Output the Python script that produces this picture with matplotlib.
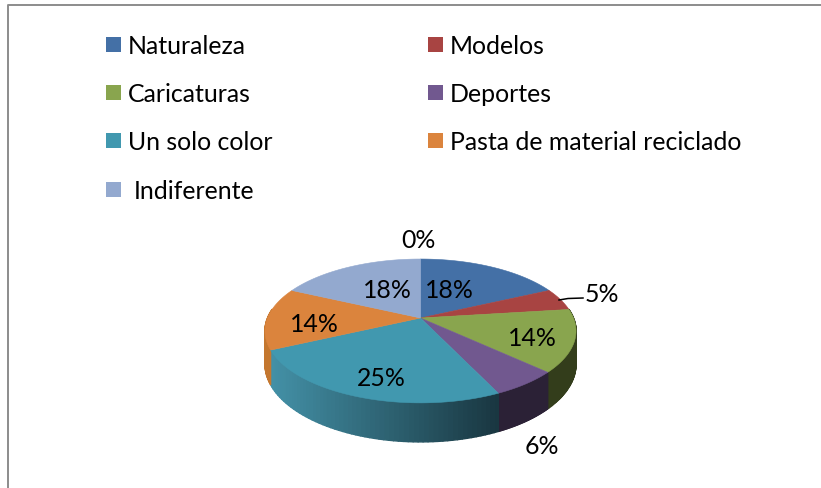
import numpy as np
import matplotlib
matplotlib.use("Agg")
import matplotlib.pyplot as plt
from matplotlib.patches import Polygon, Rectangle
from matplotlib.colors import to_rgb

categories = ["Naturaleza", "Modelos", "Caricaturas", "Deportes",
              "Un solo color", "Pasta de material reciclado", "Indiferente"]
values = [18, 5, 14, 6, 25, 14, 18]
colors = ["#4470A6", "#A84442", "#89A54E", "#71588F", "#4198AF", "#DB843D", "#93A9CF"]
side_left = ["#2c4a6e", "#6e2c2b", "#3a4520", "#2d2238", "#4390a6", "#c4772f", "#5f6f88"]
side_right = ["#2c4a6e", "#6e2c2b", "#333d1b", "#2b2136", "#193640", "#c4772f", "#5f6f88"]
label_text = ["0%", "18%", "5%", "14%", "6%", "25%", "14%", "18%"]

plt.rcParams['font.family'] = ['Lato', 'DejaVu Sans']
FS = 17.9

fig = plt.figure(figsize=(8.21, 4.89), dpi=100)
ax = fig.add_axes([0, 0, 1, 1])
ax.set_xlim(0, 821)
ax.set_ylim(489, 0)
ax.axis("off")

# chart frame
ax.plot([7.5, 7.5, 821], [489, 6, 6], color="#8c8c8c", lw=1.4, solid_capstyle="butt")

# perspective projection of the pie disc
CX, CY, B, A, K, DEPTH = 420.5, 319.0, 153.0, 69.6, 0.18, 32.0


def proj(theta, drop=0.0):
    u, v = np.cos(theta), np.sin(theta)
    w = 1 + K * v
    return CX + B * u / w, CY - A * v / w + drop / w


fractions = np.array(values) / sum(values)
edges = np.pi / 2 - 2 * np.pi * np.concatenate([[0], np.cumsum(fractions)])

# side wall
for i in range(len(values)):
    t = np.linspace(edges[i], edges[i + 1], 60)
    c0, c1 = np.array(to_rgb(side_left[i])), np.array(to_rgb(side_right[i]))
    for a, b in zip(t[:-1], t[1:]):
        if np.sin((a + b) / 2) > 0.12:
            continue
        xa, ya = proj(a)
        xb, yb = proj(b)
        xa2, ya2 = proj(a, DEPTH)
        xb2, yb2 = proj(b, DEPTH)
        f = np.clip(((xa + xb) / 2 - 272) / (498 - 272), 0, 1)
        col = c0 + (c1 - c0) * f
        ax.add_patch(Polygon([(xa, ya), (xb, yb), (xb2, yb2), (xa2, ya2)],
                             facecolor=col, edgecolor=col, lw=1.0, joinstyle="round"))

# top face
for i in range(len(values)):
    t = np.linspace(edges[i], edges[i + 1], 120)
    x, y = proj(t)
    pts = np.column_stack([np.r_[CX, x], np.r_[CY, y]])
    ax.add_patch(Polygon(pts, facecolor=colors[i], edgecolor=colors[i], lw=0.4, joinstyle="round"))

# leader line of the 5% label
ax.plot([559, 568, 583], [301, 299.5, 299], color="black", lw=1.1)

# data labels
label_pos = [(418, 240), (449, 290), (602, 294), (532, 338), (542, 446), (381, 378), (314, 325), (387, 290)]
for s, (x, y) in zip(label_text, label_pos):
    ax.text(x, y, s, ha="center", va="center", fontsize=FS, color="black")

# legend
legend_xy = [(106, 45), (428, 45), (106, 93), (428, 93), (106, 141), (428, 141), (106, 190)]
for i, (name, (x, y)) in enumerate(zip(categories, legend_xy)):
    ax.add_patch(Rectangle((x, y - 7.5), 15, 15, facecolor=colors[i], edgecolor="none"))
    tx = x + (28 if name == "Indiferente" else 22)
    ax.text(tx, y + 1.5, name, ha="left", va="center", fontsize=FS, color="black")

fig.savefig("out.png", dpi=100, facecolor="white")
